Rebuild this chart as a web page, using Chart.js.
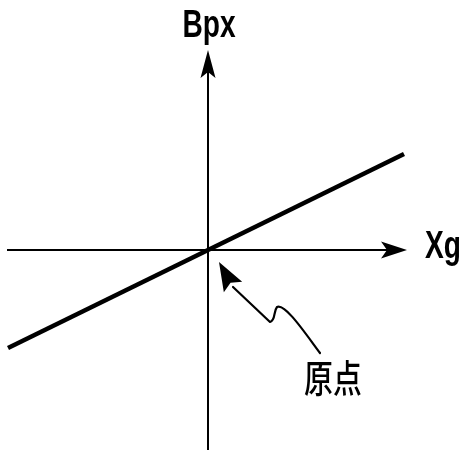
<!DOCTYPE html>
<html>
<head>
<meta charset="utf-8">
<script src="https://cdn.jsdelivr.net/npm/chart.js@4"></script>
<style>
  html, body { margin: 0; padding: 0; background: #fff; }
  #wrap { width: 465px; height: 452px; }
</style>
</head>
<body>
<div id="wrap"><canvas id="c" width="465" height="452"></canvas></div>
<script>
// values in plot units, origin at (0,0)
const lineX = [-200, 196];
const lineY = [-98, 96];
const axisXRange = [-201, 199];
const axisYRange = [-200, 200];
const axisLabels = ['Xg', 'Bpx'];
const originLabel = '原点';
// callout path (origin note): start, bezier ctrl/end pairs, then arrow base and tip
const calloutX = [112, 97, 77, 69, 65, 68, 62, 25, 11];
const calloutY = [-103, -83, -53, -57, -62, -70, -72, -37, -12];

const LABEL_FONT = 'bold 38px "Liberation Sans", Arial, sans-serif';
const CJK_FONT = '500 38px "Noto Sans CJK JP", sans-serif';

function arrowHead(ctx, tx, ty, bx, by, halfW, notch) {
  const dx = tx - bx, dy = ty - by;
  const len = Math.hypot(dx, dy);
  const ux = dx / len, uy = dy / len;
  const px = -uy, py = ux;
  ctx.beginPath();
  ctx.moveTo(tx, ty);
  ctx.lineTo(bx + px * halfW, by + py * halfW);
  ctx.lineTo(bx + ux * notch, by + uy * notch);
  ctx.lineTo(bx - px * halfW, by - py * halfW);
  ctx.closePath();
  ctx.fill();
}

// condensed text: squeeze horizontally around (x, y)
function squeezedText(ctx, txt, x, y, sx, align) {
  ctx.save();
  ctx.translate(x, y);
  ctx.scale(sx, 1);
  ctx.textAlign = align;
  ctx.fillText(txt, 0, 0);
  ctx.restore();
}

const decor = {
  id: 'decor',
  afterDatasetsDraw(chart) {
    const ctx = chart.ctx;
    const xs = chart.scales.x, ys = chart.scales.y;
    const X = v => xs.getPixelForValue(v), Y = v => ys.getPixelForValue(v);
    const ox = X(0), oy = Y(0);
    ctx.save();
    ctx.fillStyle = '#000';
    ctx.strokeStyle = '#000';

    // axis arrowheads
    const xTip = X(axisXRange[1]), yTip = Y(axisYRange[1]);
    arrowHead(ctx, xTip, oy, xTip - 26, oy, 8.5, 6);
    arrowHead(ctx, ox, yTip, ox, yTip + 28, 7.5, 6);

    // axis labels
    ctx.font = LABEL_FONT;
    ctx.textBaseline = 'alphabetic';
    squeezedText(ctx, axisLabels[1], ox + 1, yTip - 13, 0.74, 'center');
    squeezedText(ctx, axisLabels[0], xTip + 18, oy + 8, 0.74, 'left');

    // callout to origin
    const cx = calloutX.map(X), cy = calloutY.map(Y);
    ctx.lineWidth = 2.2;
    ctx.lineCap = 'round';
    ctx.lineJoin = 'round';
    ctx.beginPath();
    ctx.moveTo(cx[0], cy[0]);
    ctx.bezierCurveTo(cx[1], cy[1], cx[2], cy[2], cx[3], cy[3]);
    ctx.bezierCurveTo(cx[4], cy[4], cx[5], cy[5], cx[6], cy[6]);
    ctx.lineTo(cx[7], cy[7]);
    ctx.stroke();
    arrowHead(ctx, cx[8], cy[8], cx[7], cy[7], 10.5, 5);

    ctx.font = CJK_FONT;
    ctx.textBaseline = 'middle';
    squeezedText(ctx, originLabel, X(125), Y(-128), 0.76, 'center');
    ctx.restore();
  }
};

new Chart(document.getElementById('c'), {
  type: 'scatter',
  data: {
    datasets: [
      { data: [{ x: axisXRange[0], y: 0 }, { x: axisXRange[1] - 10, y: 0 }],
        showLine: true, borderColor: '#000', borderWidth: 2, pointRadius: 0 },
      { data: [{ x: 0, y: axisYRange[0] }, { x: 0, y: axisYRange[1] - 10 }],
        showLine: true, borderColor: '#000', borderWidth: 2, pointRadius: 0 },
      { data: lineX.map((x, i) => ({ x, y: lineY[i] })),
        showLine: true, borderColor: '#000', borderWidth: 4.5, pointRadius: 0 },
    ],
  },
  options: {
    responsive: false, animation: false, devicePixelRatio: 1,
    layout: { padding: 0 },
    plugins: { legend: { display: false }, tooltip: { enabled: false } },
    scales: {
      x: { type: 'linear', display: false, min: -208, max: 257 },
      y: { type: 'linear', display: false, min: -202, max: 250 },
    },
  },
  plugins: [decor],
});
</script>
</body>
</html>
